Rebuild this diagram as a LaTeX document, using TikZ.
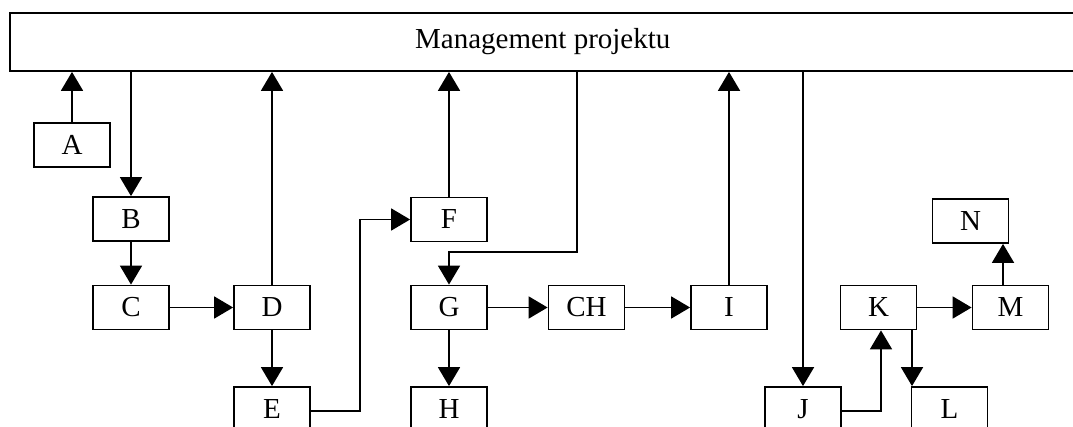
\documentclass[tikz,border=0pt]{standalone}
\usepackage{fontspec}
\setmainfont{Liberation Serif}
\usetikzlibrary{arrows.meta}
\begin{document}
\begin{tikzpicture}[x=1pt,y=-1pt,
  line width=1.8pt,
  box/.style={draw, rectangle, minimum width=76pt, minimum height=44pt, inner sep=0pt,
    font=\fontsize{29}{34}\selectfont},
  arr/.style={-{Triangle[width=22pt,length=19pt]}}]
\useasboundingbox (0,0) rectangle (1073,427);
\clip (0,0) rectangle (1073,427);
\node[draw, rectangle, minimum width=1066pt, minimum height=58pt, inner sep=0pt,
  font=\fontsize{29}{34}\selectfont] (top) at (542.75,42) {Management projektu};
\node[box] (A) at (72,145) {A};
\node[box] (B) at (131,219) {B};
\node[box] (C) at (131,307.5) {C};
\node[box] (D) at (272,307.5) {D};
\node[box] (E) at (272,409) {E};
\node[box] (F) at (449,219.5) {F};
\node[box] (G) at (449,307.5) {G};
\node[box] (H) at (449,409) {H};
\node[box] (CH) at (586.5,307.5) {CH};
\node[box] (I) at (729,307.5) {I};
\node[box] (J) at (803,409) {J};
\node[box] (K) at (878.5,307.5) {K};
\node[box] (L) at (949.5,409) {L};
\node[box] (M) at (1010.5,307.5) {M};
\node[box] (N) at (970.5,221) {N};
\coordinate (gx) at (577,252);
\coordinate (ex) at (360,411);
\coordinate (jx) at (881,411);
\coordinate (kl) at (912,329.5);
\coordinate (mn) at (1003,270);
% upward to management
\draw[arr] (A.north) -- (A.north |- top.south);
\draw[arr] (D.north) -- (D.north |- top.south);
\draw[arr] (F.north) -- (F.north |- top.south);
\draw[arr] (I.north) -- (I.north |- top.south);
% downward from management
\draw[arr] (B.north |- top.south) -- (B.north);
\draw[arr] (gx |- top.south) -- (gx) -| (G.north);
\draw[arr] (J.north |- top.south) -- (J.north);
% chains
\draw[arr] (B) -- (C);
\draw[arr] (C) -- (D);
\draw[arr] (D) -- (E);
\draw[arr] (E.east |- ex) -- (ex) |- (F.west);
\draw[arr] (G) -- (CH);
\draw[arr] (CH) -- (I);
\draw[arr] (G) -- (H);
\draw[arr] (J.east |- jx) -- (jx) -- (jx |- K.south);
\draw[arr] (kl) -- (kl |- L.north);
\draw[arr] (K) -- (M);
\draw[arr] (mn |- M.north) -- (mn |- N.south);
\end{tikzpicture}
\end{document}
